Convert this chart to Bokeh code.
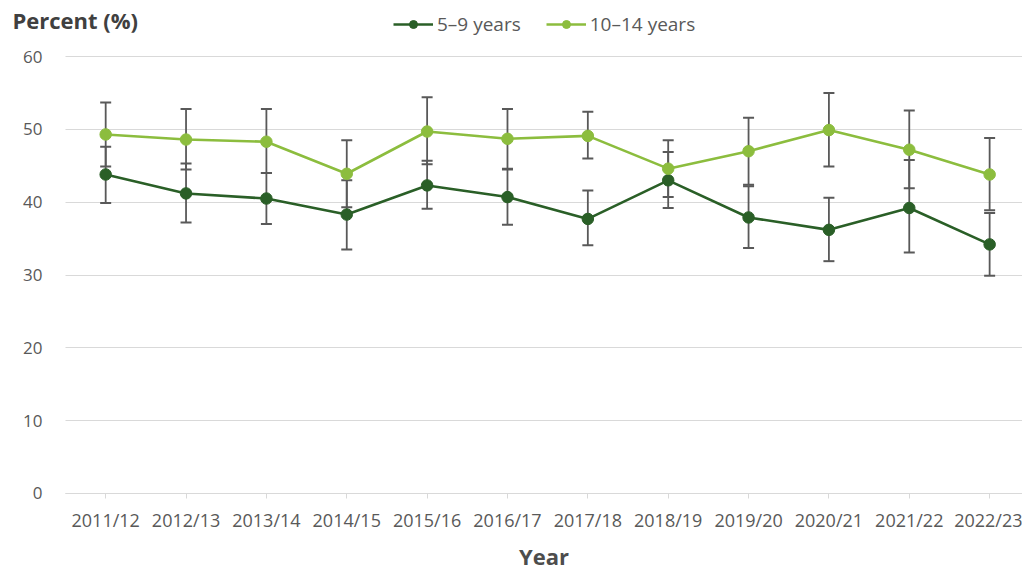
from bokeh.plotting import figure
from bokeh.models import (Range1d, FixedTicker, ColumnDataSource, Whisker, TeeHead,
                          Legend, LegendItem, Label)
from bokeh.embed import file_html
from bokeh.resources import INLINE

years = ["2011/12", "2012/13", "2013/14", "2014/15", "2015/16", "2016/17",
         "2017/18", "2018/19", "2019/20", "2020/21", "2021/22", "2022/23"]

age_5_9 = [43.8, 41.2, 40.5, 38.3, 42.3, 40.7, 37.7, 43.0, 37.9, 36.2, 39.2, 34.2]
age_5_9_lower = [39.9, 37.2, 37.0, 33.5, 39.1, 36.9, 34.1, 39.2, 33.7, 31.9, 33.1, 29.9]
age_5_9_upper = [47.6, 45.3, 44.0, 43.0, 45.7, 44.5, 41.6, 46.9, 42.2, 40.6, 45.8, 38.5]

age_10_14 = [49.3, 48.6, 48.3, 43.9, 49.7, 48.7, 49.1, 44.6, 47.0, 49.9, 47.2, 43.8]
age_10_14_lower = [44.9, 44.5, 44.0, 39.3, 45.2, 44.6, 46.0, 40.7, 42.4, 44.9, 41.9, 38.9]
age_10_14_upper = [53.7, 52.8, 52.8, 48.5, 54.4, 52.8, 52.4, 48.5, 51.6, 55.0, 52.6, 48.8]

y_ticks = [0, 10, 20, 30, 40, 50, 60]

DARK = "#2a5f27"
LIGHT = "#8cbd3e"
ERR = "#595959"
GRID = "#d9d9d9"
FONT = "Open Sans"

xs = list(range(len(years)))

X0, X1 = -0.5, 11.409

p = figure(width=1022, height=572, output_backend="svg", toolbar_location=None,
           title=None, x_range=Range1d(-1.3089, X1), y_range=Range1d(-10.847, 67.69),
           min_border_left=0, min_border_right=0, min_border_top=0, min_border_bottom=0)
p.outline_line_color = None
p.background_fill_color = "white"
p.border_fill_color = "white"

# y axis drawn inside the frame at the left edge of the plotting area
p.yaxis.fixed_location = X0
p.yaxis.bounds = (0, 60)
p.yaxis.ticker = FixedTicker(ticks=y_ticks)
p.yaxis.axis_line_color = None
p.yaxis.major_tick_line_color = None
p.yaxis.minor_tick_line_color = None
p.yaxis.major_label_standoff = 17
p.yaxis.major_label_text_font = FONT
p.yaxis.major_label_text_font_size = "17px"
p.yaxis.major_label_text_color = "#595959"

# x axis at y = 0
p.xaxis.fixed_location = 0
p.xaxis.bounds = (X0, X1)
p.xaxis.ticker = FixedTicker(ticks=xs)
p.xaxis.major_label_overrides = {i: y for i, y in enumerate(years)}
p.xaxis.axis_line_color = GRID
p.xaxis.axis_line_width = 1
p.xaxis.major_tick_line_color = GRID
p.xaxis.major_tick_out = 5
p.xaxis.major_tick_in = 0
p.xaxis.minor_tick_line_color = None
p.xaxis.major_label_standoff = 10
p.xaxis.major_label_text_font = FONT
p.xaxis.major_label_text_font_size = "18px"
p.xaxis.major_label_text_color = "#595959"
p.xaxis.axis_label = "Year"
p.xaxis.axis_label_text_font = FONT
p.xaxis.axis_label_text_font_size = "22px"
p.xaxis.axis_label_text_font_style = "bold"
p.xaxis.axis_label_text_color = "#4d4d4d"
p.xaxis.axis_label_standoff = 5

p.xgrid.grid_line_color = None
p.ygrid.ticker = FixedTicker(ticks=y_ticks)
p.ygrid.cross_bounds = (X0, X1)
p.ygrid.grid_line_color = GRID
p.ygrid.grid_line_width = 1

# error bars
for lo, hi in [(age_5_9_lower, age_5_9_upper), (age_10_14_lower, age_10_14_upper)]:
    src = ColumnDataSource(dict(x=xs, lower=lo, upper=hi))
    w = Whisker(base="x", lower="lower", upper="upper", source=src,
                line_color=ERR, line_width=1.8, level="underlay",
                upper_head=TeeHead(size=11, line_color=ERR, line_width=2),
                lower_head=TeeHead(size=11, line_color=ERR, line_width=2))
    p.add_layout(w)

# series
l1 = p.line(xs, age_5_9, line_color=DARK, line_width=2.6)
s1 = p.scatter(xs, age_5_9, size=11.5, fill_color=DARK, line_color=DARK)
l2 = p.line(xs, age_10_14, line_color=LIGHT, line_width=2.6)
s2 = p.scatter(xs, age_10_14, size=11.5, fill_color=LIGHT, line_color=LIGHT)

legend = Legend(items=[LegendItem(label="5–9 years", renderers=[l1, s1]),
                       LegendItem(label="10–14 years", renderers=[l2, s2])],
                orientation="horizontal", location=(393, 535),
                glyph_width=40, glyph_height=20, label_standoff=4, spacing=25,
                padding=0, margin=0, border_line_color=None,
                background_fill_alpha=0,
                label_text_font=FONT, label_text_font_size="19px",
                label_text_color="#595959")
p.add_layout(legend)

title = Label(x=12, y=553, x_units="screen", y_units="screen", text="Percent (%)",
              text_font=FONT, text_font_size="22px", text_font_style="bold",
              text_color="#404040", text_baseline="middle", text_align="left")
p.add_layout(title)

open("out.html", "w").write(file_html(p, INLINE))
